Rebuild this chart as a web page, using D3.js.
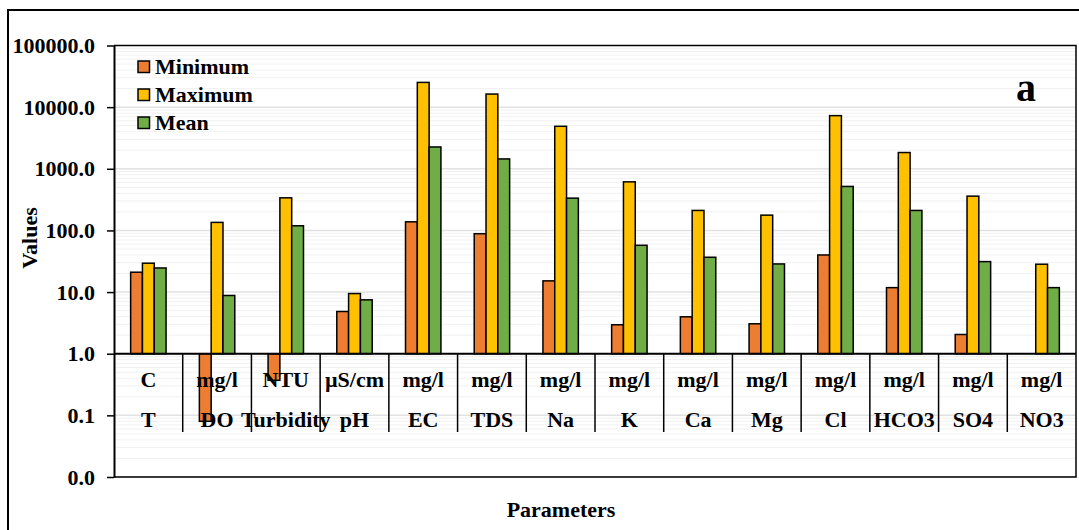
<!DOCTYPE html>
<html>
<head>
<meta charset="utf-8">
<script src="https://cdn.jsdelivr.net/npm/d3@7"></script>
<style>
  html, body { margin: 0; padding: 0; background: #fff; }
  svg { display: block; }
  text { font-family: "Liberation Serif", "Times New Roman", serif; font-weight: bold; fill: #000; }
</style>
</head>
<body>
<svg id="chart" width="1079" height="530"></svg>
<script>
// Water-quality parameters (log scale, bars grow from 1.0)
const categories = ["T", "DO", "Turbidity", "pH", "EC", "TDS", "Na", "K", "Ca", "Mg", "Cl", "HCO3", "SO4", "NO3"];
const units = ["C", "mg/l", "NTU", "µS/cm", "mg/l", "mg/l", "mg/l", "mg/l", "mg/l", "mg/l", "mg/l", "mg/l", "mg/l", "mg/l"];
const seriesNames = ["Minimum", "Maximum", "Mean"];
const minimum = [21.0, 0.080, 0.37, 4.84, 138, 88.5, 15.2, 2.95, 3.97, 3.06, 40, 11.8, 2.05, null];
const maximum = [29.4, 135, 338, 9.46, 25200, 16300, 4890, 614, 211, 177, 7280, 1835, 360, 28.3];
const mean = [24.6, 8.8, 119, 7.48, 2260, 1445, 334, 57.4, 36.7, 28.6, 517, 211, 31.2, 11.8];
const yTicks = [0.01, 0.1, 1, 10, 100, 1000, 10000, 100000];
const colors = ["#ED7D31", "#FFC000", "#70AD47"];

const series = [minimum, maximum, mean];
const svg = d3.select("#chart");
const fontSize = "22px";

const plotLeft = 114, plotRight = 1076, plotTop = 45.5, plotBottom = 477;
const x = d3.scaleBand().domain(categories).range([plotLeft, plotRight]).paddingInner(0).paddingOuter(0);
const xInner = d3.scaleBand().domain(seriesNames).range([0, x.bandwidth()]).paddingInner(0).paddingOuter(1.41);
const y = d3.scaleLog().domain([0.01, 100000]).range([plotBottom, plotTop]);
const base = y(1);

// outer frame
svg.append("rect").attr("x", 8).attr("y", 10).attr("width", 1100).attr("height", 540)
  .attr("fill", "none").attr("stroke", "#000").attr("stroke-width", 2);

// gridlines: minor and major
const grid = svg.append("g");
for (let e = -2; e < 5; e++) {
  for (let k = 1; k <= 9; k++) {
    const v = k * Math.pow(10, e);
    grid.append("line")
      .attr("x1", plotLeft).attr("x2", plotRight)
      .attr("y1", y(v)).attr("y2", y(v))
      .attr("stroke", k === 1 ? "#e2e2e2" : "#f1f1f1")
      .attr("stroke-width", k === 1 ? 1.5 : 1);
  }
}

// plot frame (top, right, bottom)
svg.append("path")
  .attr("d", `M${plotLeft},${plotTop}H${plotRight}V${plotBottom}H${plotLeft}`)
  .attr("fill", "none").attr("stroke", "#000").attr("stroke-width", 1.5);

// bars
const groups = svg.append("g").selectAll("g").data(series).join("g")
  .attr("fill", (d, i) => colors[i]);
groups.each(function (vals, si) {
  d3.select(this).selectAll("rect")
    .data(vals.map((v, ci) => ({ v, c: categories[ci] })).filter(d => d.v != null))
    .join("rect")
    .attr("x", d => x(d.c) + xInner(seriesNames[si]))
    .attr("width", xInner.bandwidth())
    .attr("y", d => Math.min(y(d.v), base))
    .attr("height", d => Math.abs(base - y(d.v)))
    .attr("stroke", "#000").attr("stroke-width", 1.5);
});

// category axis at 1.0
svg.append("line").attr("x1", plotLeft).attr("x2", plotRight).attr("y1", base).attr("y2", base)
  .attr("stroke", "#000").attr("stroke-width", 2);
categories.forEach((c, i) => {
  if (i > 0) {
    svg.append("line").attr("x1", x(c)).attr("x2", x(c)).attr("y1", base).attr("y2", 432)
      .attr("stroke", "#000").attr("stroke-width", 1.5);
  }
  const cx = x(c) + x.bandwidth() / 2;
  svg.append("text").attr("x", cx).attr("y", 387).attr("text-anchor", "middle")
    .style("font-size", fontSize).text(units[i]);
  svg.append("text").attr("x", cx).attr("y", 427).attr("text-anchor", "middle")
    .style("font-size", fontSize).text(c);
});

// value axis
const yAxis = d3.axisLeft(y).tickValues(yTicks).tickFormat(d3.format(".1f"))
  .tickSize(7).tickSizeOuter(0).tickPadding(12);
const ya = svg.append("g").attr("transform", `translate(${plotLeft},0)`).call(yAxis);
ya.attr("font-family", null).attr("font-size", null);
ya.select(".domain").attr("stroke", "#000").attr("stroke-width", 2);
ya.selectAll(".tick line").attr("stroke", "#000").attr("stroke-width", 1.5);
ya.selectAll(".tick text").style("font-size", fontSize);

// axis titles
svg.append("text").attr("transform", "translate(37,238) rotate(-90)")
  .attr("text-anchor", "middle").style("font-size", fontSize).text("Values");
svg.append("text").attr("x", 561).attr("y", 517).attr("text-anchor", "middle")
  .style("font-size", fontSize).text("Parameters");

// panel letter
svg.append("text").attr("x", 1026).attr("y", 101).attr("text-anchor", "middle")
  .style("font-size", "40px").text("a");

// legend
const legend = svg.append("g").attr("transform", "translate(138,61)");
seriesNames.forEach((name, i) => {
  const g = legend.append("g").attr("transform", `translate(0,${i * 28})`);
  g.append("rect").attr("width", 11.5).attr("height", 11.5)
    .attr("fill", colors[i]).attr("stroke", "#000").attr("stroke-width", 1.5);
  g.append("text").attr("x", 17).attr("y", 13).style("font-size", fontSize).text(name);
});
</script>
</body>
</html>
